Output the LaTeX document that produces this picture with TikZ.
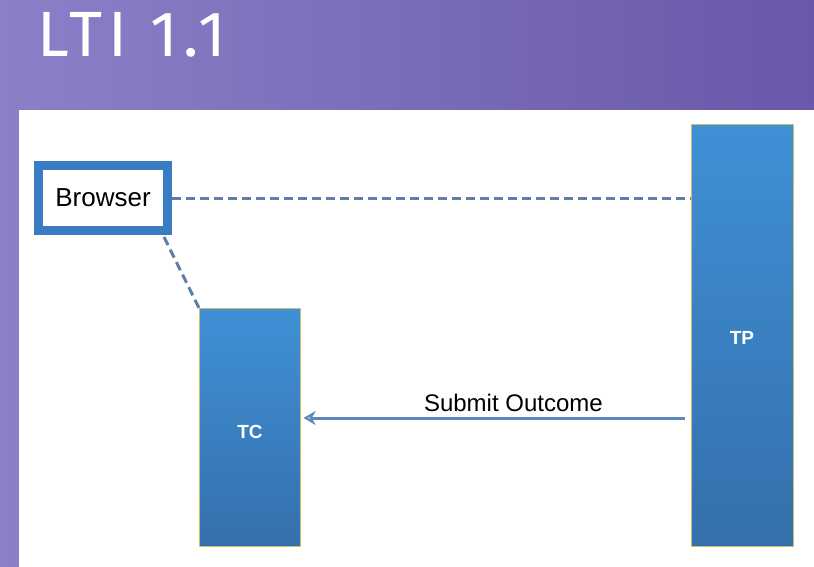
\documentclass[tikz,border=0pt]{standalone}
\usepackage{fontspec}
\setmainfont{Liberation Sans}
\newfontfamily\titlefont{Fira Sans}[LetterSpace=9]
\usetikzlibrary{positioning,arrows.meta}

\definecolor{bgleft}{HTML}{8A80C8}
\definecolor{bgright}{HTML}{6A58AA}
\definecolor{boxtop}{HTML}{4090D6}
\definecolor{boxbot}{HTML}{3470AC}
\definecolor{edgeblue}{HTML}{3A7CC4}
\definecolor{dashblue}{HTML}{5E7FA8}
\definecolor{arrowblue}{HTML}{5A88BC}

\begin{document}
\begin{tikzpicture}[
    x=1pt, y=-1pt,
    actor/.style={rectangle, draw=olive!50, line width=0.6pt, top color=boxtop, bottom color=boxbot,
      text=white, font=\bfseries\fontsize{18}{20}\selectfont, anchor=north west},
    client/.style={rectangle, draw=edgeblue, line width=9pt, fill=white,
      font=\fontsize{26}{28}\selectfont, minimum width=129pt, minimum height=65pt},
    link/.style={dashblue, dashed, dash pattern=on 9pt off 5pt, line width=3pt},
    arrow/.style={-{Stealth[length=12pt, width=14pt, open]}, arrowblue, line width=3pt}
]
    % Background
    \fill[left color=bgleft, right color=bgright] (0,0) rectangle (814,567);
    \fill[white] (19,110) rectangle (814,567);
    \useasboundingbox (0,0) rectangle (814,567);

    % Title
    \node[anchor=west, text=white, font=\titlefont\fontsize{64}{66}\selectfont] (title) at (34,35) {LTI 1.1};

    % Nodes
    \node[client] (browser) at (103,198) {Browser};
    \node[actor, minimum width=101pt, minimum height=238pt] (tc) at (199,308) {};
    \node[actor, minimum width=102pt, minimum height=422pt] (tp) at (691,124) {};
    \node[text=white, font=\bfseries\fontsize{19}{21}\selectfont] (tclabel) at (250,432) {TC};
    \node[text=white, font=\bfseries\fontsize{19}{21}\selectfont] (tplabel) at (742,338) {TP};

    % Links
    \draw[link] (browser.east) -- (browser.east -| tp.west);
    \draw[link] (browser.south east) ++(-8,2) coordinate (bcorner) -- (tc.north west);

    % Message
    \coordinate (msgstart) at ([xshift=-6pt]tp.west |- 0,418);
    \coordinate (msgend) at ([xshift=3pt]tc.east |- 0,418);
    \draw[arrow] (msgstart) -- (msgend)
      node[pos=0.45, above=1pt, black, font=\fontsize{24}{26}\selectfont] (msg) {Submit Outcome};
\end{tikzpicture}
\end{document}
